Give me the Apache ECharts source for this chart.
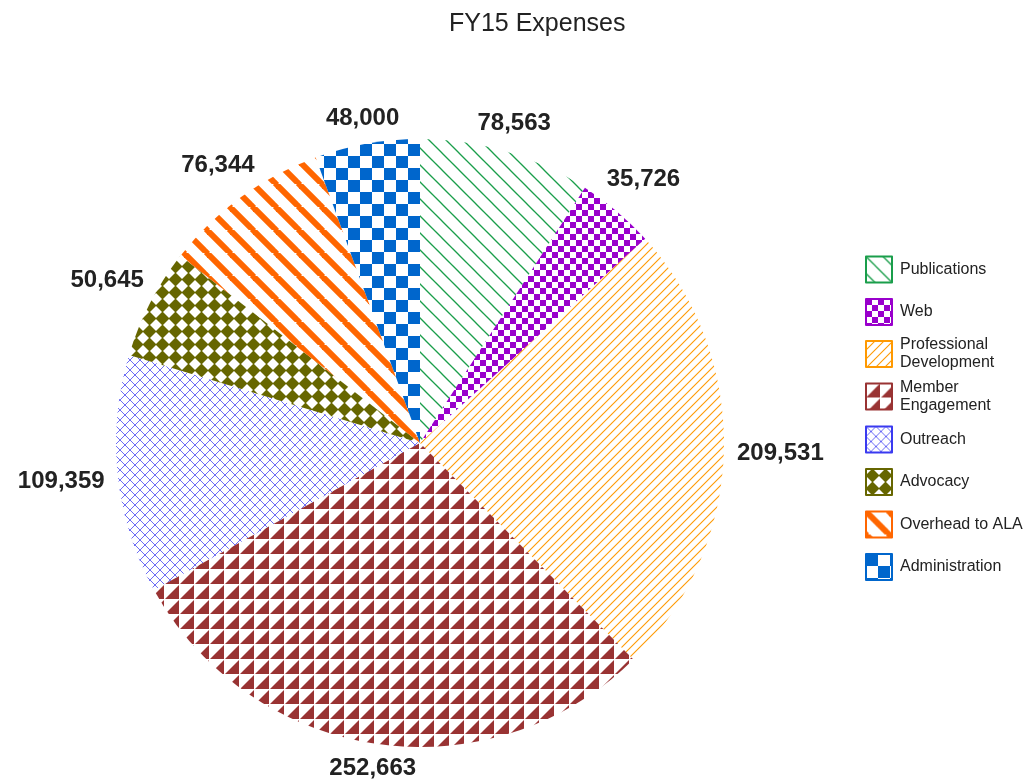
<!DOCTYPE html>
<html><head><meta charset="utf-8">
<script src="https://cdn.jsdelivr.net/npm/echarts@6/dist/echarts.min.js"></script>
<style>html,body{margin:0;padding:0;background:#fff}#c{width:1029px;height:783px}</style>
</head><body><div id="c"></div>
<script>
const categories = ['Publications','Web','Professional Development','Member Engagement','Outreach','Advocacy','Overhead to ALA','Administration'];
const legendLabels = ['Publications','Web','Professional\nDevelopment','Member\nEngagement','Outreach','Advocacy','Overhead to ALA','Administration'];
const values = [78563,35726,209531,252663,109359,50645,76344,48000];
const colors = ['#1a9e4b','#9900cc','#ff9900','#993333','#3a3af0','#666600','#ff6600','#0066cc'];
const FONT = 'Arial, "Liberation Sans", sans-serif';

function tile(T, draw) {
  const c = document.createElement('canvas');
  c.width = T; c.height = T;
  const ctx = c.getContext('2d');
  draw(ctx, T);
  return {image: c, repeat: 'repeat'};
}
function back(ctx, T, col, w) { // "\" lines
  ctx.strokeStyle = col; ctx.lineWidth = w;
  for (let k = -1; k <= 1; k++) { ctx.beginPath(); ctx.moveTo(k*T - 1, -1); ctx.lineTo(k*T + T + 1, T + 1); ctx.stroke(); }
}
function fwd(ctx, T, col, w) { // "/" lines
  ctx.strokeStyle = col; ctx.lineWidth = w;
  for (let k = -1; k <= 1; k++) { ctx.beginPath(); ctx.moveTo(k*T - 1, T + 1); ctx.lineTo(k*T + T + 1, -1); ctx.stroke(); }
}
const patterns = [
  tile(17, (ctx, T) => back(ctx, T, colors[0], 1.3)),
  tile(12, (ctx, T) => { ctx.fillStyle = colors[1]; ctx.fillRect(0,0,6,6); ctx.fillRect(6,6,6,6); }),
  tile(9, (ctx, T) => fwd(ctx, T, colors[2], 1.1)),
  tile(15, (ctx, T) => { ctx.fillStyle = colors[3]; ctx.beginPath(); ctx.moveTo(T-1,0); ctx.lineTo(T-1,T-1); ctx.lineTo(0,T-1); ctx.closePath(); ctx.fill(); }),
  tile(10, (ctx, T) => { back(ctx, T, 'rgba(60,60,240,0.75)', 1); fwd(ctx, T, 'rgba(60,60,240,0.75)', 1); }),
  tile(13, (ctx, T) => { ctx.fillStyle = colors[5]; const h = T/2, d = 7;
    ctx.beginPath(); ctx.moveTo(h, h-d); ctx.lineTo(h+d, h); ctx.lineTo(h, h+d); ctx.lineTo(h-d, h); ctx.closePath(); ctx.fill(); }),
  tile(23, (ctx, T) => back(ctx, T, colors[6], 6)),
  tile(24, (ctx, T) => { ctx.fillStyle = colors[7]; ctx.fillRect(0,0,12,12); ctx.fillRect(12,12,12,12); })
];

const legendCenters = [269, 311.5, 354, 396.5, 439, 481.5, 524, 566.5];

const chart = echarts.init(document.getElementById('c'), null, {renderer: 'canvas'});
const option = {
  backgroundColor: '#fff',
  animation: false,
  title: {
    text: 'FY15 Expenses', left: 444, top: 7,
    textStyle: {fontFamily: FONT, fontSize: 25, fontWeight: 'normal', color: '#222'}
  },
  legend: categories.map((name, i) => {
    const multi = legendLabels[i].indexOf('\n') >= 0;
    return {
      data: [{name: name, itemStyle: {borderColor: colors[i], borderWidth: 2}}],
      orient: 'vertical', left: 865, top: legendCenters[i] - (multi ? 27 : 13.5),
      padding: 0, itemWidth: 26, itemHeight: 26, icon: 'rect',
      selectedMode: false,
      formatter: () => legendLabels[i],
      textStyle: {fontFamily: FONT, fontSize: 16, color: '#222', lineHeight: 18,
        padding: multi ? [18, 0, 0, 3] : [0, 0, 0, 3]}
    };
  }),
  series: [{
    type: 'pie',
    center: [420, 443],
    radius: 304,
    startAngle: 90,
    clockwise: true,
    avoidLabelOverlap: false,
    itemStyle: {borderWidth: 0},
    data: categories.map((name, i) => ({name: name, value: values[i], itemStyle: {color: patterns[i]}})),
    label: {
      show: true, position: 'outside',
      formatter: p => p.value.toLocaleString('en-US'),
      fontFamily: FONT, fontSize: 24, fontWeight: 'bold', color: '#222'
    },
    labelLine: {show: false, length: 10, length2: 0},
    labelLayout: function (params) {
      const data = chart.getModel().getSeriesByIndex(0).getData();
      const lay = data.getItemLayout(params.dataIndex);
      const mid = (lay.startAngle + lay.endAngle) / 2;
      const ux = Math.cos(mid), uy = Math.sin(mid);
      const hw = params.labelRect.width / 2, hh = params.labelRect.height / 2;
      const D = lay.r + 13 + Math.abs(ux) * hw + Math.abs(uy) * hh * 0.5;
      return {x: lay.cx + ux * D, y: lay.cy + uy * D, align: 'center', verticalAlign: 'middle'};
    },
    emphasis: {disabled: true}
  }]
};
chart.setOption(option);
</script>
</body></html>
